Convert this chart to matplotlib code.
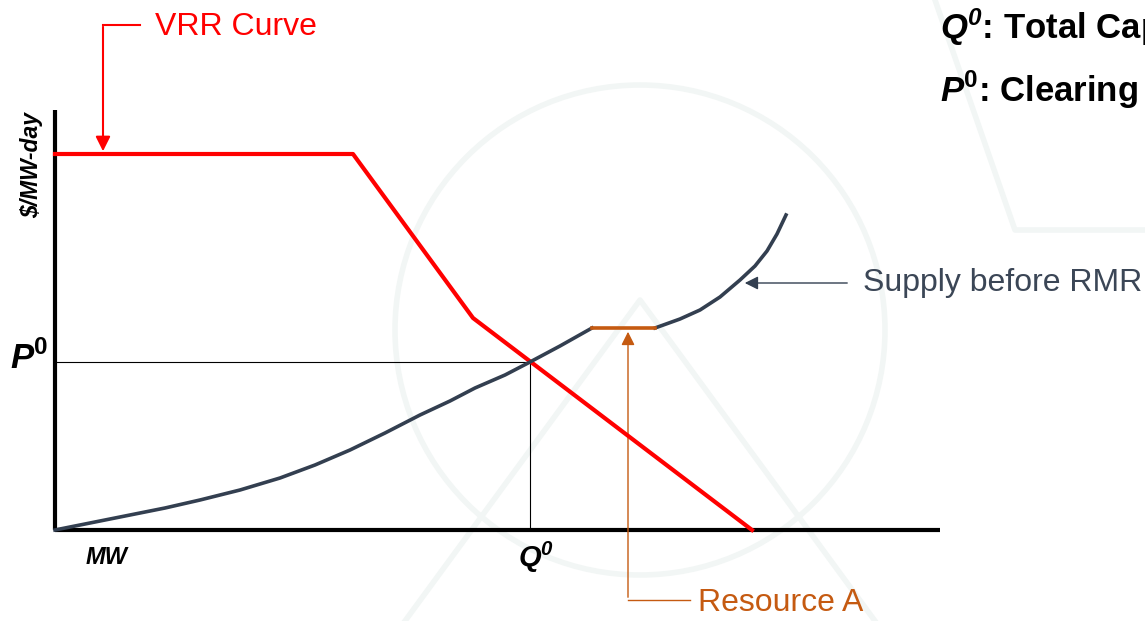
import matplotlib.pyplot as plt
from matplotlib.patches import Circle

# Chart units: x = MW from the origin, y = $/MW-day from the origin
vrr_x = [0, 298, 418, 697]
vrr_y = [376, 376, 212, 0]

supply_lo_x = [0, 40, 75, 110, 145, 185, 225, 260, 295, 330, 365, 395, 420, 450, 475, 505, 537]
supply_lo_y = [0, 8, 15, 22, 30, 40, 52, 65, 80, 97, 115, 129, 142, 155, 168, 184, 202]
resource_x = [537, 600]
resource_y = [202, 202]
supply_hi_x = [600, 625, 645, 665, 685, 700, 712, 722, 731]
supply_hi_y = [202, 211, 220, 233, 250, 264, 279, 296, 315]

q0 = 475
p0 = 168
x_axis_end = 885
y_axis_end = 420

plt.rcParams['font.family'] = ['Liberation Sans', 'DejaVu Sans']
plt.rcParams['mathtext.fontset'] = 'custom'
plt.rcParams['mathtext.bf'] = 'Liberation Sans:italic:bold'
plt.rcParams['mathtext.rm'] = 'Liberation Sans:bold'

fig = plt.figure(figsize=(11.45, 6.21), dpi=100)
ax = fig.add_axes([0, 0, 1, 1])
ax.set_xlim(-55, 1090)
ax.set_ylim(-91, 530)
ax.axis('off')

# faint watermark in the background
wm = '#f2f6f5'
ax.add_patch(Circle((585, 200), 245, fill=False, lw=4, color=wm, zorder=0))
ax.plot([350, 585, 820], [-91, 230, -91], color=wm, lw=4, zorder=0)
ax.plot([880, 960, 1090], [530, 300, 300], color=wm, lw=4, zorder=0)

# axes
ax.plot([0, 0], [0, y_axis_end], color='black', lw=3, solid_capstyle='butt', zorder=3)
ax.plot([0, x_axis_end], [0, 0], color='black', lw=3, solid_capstyle='butt', zorder=3)

# equilibrium guides
ax.plot([0, q0], [p0, p0], color='black', lw=0.8, zorder=2)
ax.plot([q0, q0], [0, p0], color='black', lw=0.8, zorder=2)

# curves
ax.plot(vrr_x, vrr_y, color='#ff0000', lw=3, zorder=4)
ax.plot(supply_lo_x, supply_lo_y, color='#333f50', lw=2.6, zorder=5)
ax.plot(supply_hi_x, supply_hi_y, color='#333f50', lw=2.6, zorder=5)
ax.plot(resource_x, resource_y, color='#c55a11', lw=2.6, zorder=5)

# VRR Curve label
ax.plot([85, 48], [505, 505], color='#ff0000', lw=1.5)
ax.annotate('', xy=(48, vrr_y[0]), xytext=(48, 506),
            arrowprops=dict(arrowstyle='-|>', color='#ff0000', lw=1.5, mutation_scale=22))
ax.text(100, 503, 'VRR Curve', color='#ff0000', fontsize=23, va='center', ha='left')

# Supply label
ax.annotate('', xy=(687, 247), xytext=(795, 247),
            arrowprops=dict(arrowstyle='-|>', color='#333f50', lw=1, mutation_scale=20))
ax.text(808, 247, 'Supply before RMR', color='#3b4656', fontsize=23, va='center', ha='left')

# Resource A label
ax.annotate('', xy=(573, 201), xytext=(573, -70),
            arrowprops=dict(arrowstyle='-|>', color='#c55a11', lw=1, mutation_scale=20))
ax.plot([573, 635], [-70, -70], color='#c55a11', lw=1)
ax.text(643, -73, 'Resource A', color='#c55a11', fontsize=23, va='center', ha='left')

# axis labels
ax.text(-23, 365, '$/MW-day', rotation=90, fontsize=16.5, fontweight='bold',
        style='italic', va='center', ha='center')
ax.text(31, -27, 'MW', fontsize=17, fontweight='bold', style='italic', va='center')
ax.text(q0 - 12, -27, r'$\mathbf{Q^{0}}$', fontsize=21, va='center', ha='left')
ax.text(-45, p0 + 4, r'$\mathbf{P}^{\mathrm{0}}$', fontsize=25, va='center', ha='left')

# definitions in the top right
ax.text(885, 503, r'$\mathbf{Q^{0}}$: Total Capacity Cleared', fontsize=25, fontweight='bold',
        va='center', ha='left')
ax.text(885, 440, r'$\mathbf{P}^{\mathrm{0}}$: Clearing Price', fontsize=25, fontweight='bold',
        va='center', ha='left')

fig.savefig('out.png', dpi=100)
